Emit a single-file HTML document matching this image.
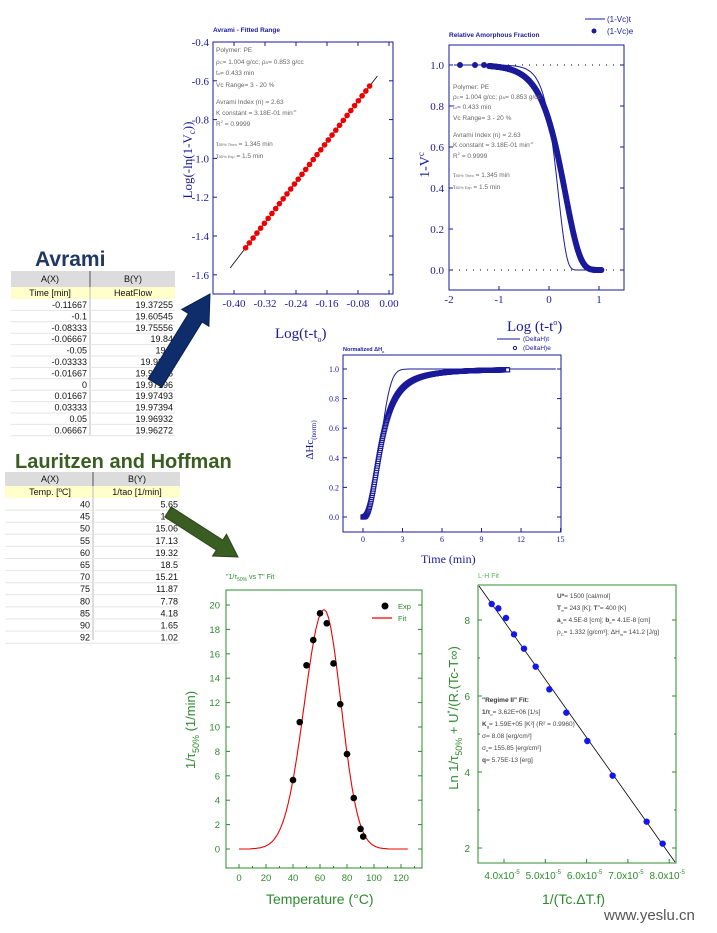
<!DOCTYPE html>
<html><head><meta charset="utf-8"><style>
html,body{margin:0;padding:0;background:#fff;width:717px;height:933px;overflow:hidden}
svg{display:block}
.ser{font-family:"Liberation Serif",serif}
.sans{font-family:"Liberation Sans",sans-serif}
.b{fill:#1a1a9a}
.g{fill:#2e8b2e}
.note{font-family:"Liberation Sans",sans-serif;font-size:6.5px;fill:#666}
.tb{font-family:"Liberation Sans",sans-serif;font-size:9px;fill:#111}
</style></head><body>
<svg id="s" width="717" height="933" viewBox="0 0 717 933" xmlns="http://www.w3.org/2000/svg">
<text x="35" y="266" class="sans" font-size="21" font-weight="bold" fill="#1f3864">Avrami</text>
<rect x="11" y="271" width="164" height="16" fill="#dcdcdc"/>
<rect x="11" y="287" width="164" height="12" fill="#ffffcc"/>
<line x1="90" y1="271" x2="90" y2="436" stroke="#bbb"/>
<line x1="90" y1="271" x2="90" y2="287" stroke="#555"/>
<text x="50" y="282" class="tb" text-anchor="middle">A(X)</text>
<text x="133" y="282" class="tb" text-anchor="middle">B(Y)</text>
<text x="50" y="296" class="tb" text-anchor="middle">Time [min]</text>
<text x="133" y="296" class="tb" text-anchor="middle">HeatFlow</text>
<g id="t1"></g>
<text x="15" y="468" class="sans" font-size="20" font-weight="bold" fill="#3a5e22">Lauritzen and Hoffman</text>
<rect x="5" y="472" width="175" height="14" fill="#dcdcdc"/>
<rect x="5" y="486" width="175" height="12" fill="#ffffcc"/>
<line x1="93" y1="472" x2="93" y2="640" stroke="#bbb"/>
<line x1="93" y1="472" x2="93" y2="486" stroke="#555"/>
<text x="50" y="482" class="tb" text-anchor="middle">A(X)</text>
<text x="137" y="482" class="tb" text-anchor="middle">B(Y)</text>
<text x="50" y="495" class="tb" text-anchor="middle">Temp. [ºC]</text>
<text x="137" y="495" class="tb" text-anchor="middle">1/tao [1/min]</text>
<g id="t2"></g>

<polygon points="161.8,387.2 202.1,322.0 208.9,326.2 210,294 181.7,309.4 188.5,313.6 148.2,378.8" fill="#0f2d6b" stroke="#0a1f4a"/>
<polygon points="164.8,517.0 216.3,550.1 212.5,556.0 238,557 226.5,534.2 222.7,540.1 171.2,507.0" fill="#3a5e22" stroke="#2a4418"/>

<text x="213" y="32" class="sans" font-size="6.5" font-weight="bold" fill="#1a1a9a">Avrami - Fitted Range</text>
<rect x="213" y="42" width="180" height="252" fill="none" stroke="#1a1a9a" stroke-width="1"/>
<g id="p1"></g>
<text transform="translate(192,160) rotate(-90)" class="ser b" font-size="13" text-anchor="middle">Log(-ln(1-V<tspan font-size="9" dy="3">c</tspan><tspan dy="-3">))</tspan></text>
<text x="275" y="338" class="ser b" font-size="15">Log(t-t<tspan font-size="8" dy="4">o</tspan><tspan dy="-4">)</tspan></text>
<g class="note">
<text x="216" y="52">Polymer: PE</text>
<text x="216" y="64">ρ<tspan font-size="4">C</tspan>= 1.004 g/cc; ρ<tspan font-size="4">A</tspan>= 0.853 g/cc</text>
<text x="216" y="75">t<tspan font-size="4">o</tspan>= 0.433 min</text>
<text x="216" y="87">Vc Range= 3 - 20 %</text>
<text x="216" y="104">Avrami Index (n) = 2.63</text>
<text x="216" y="115">K constant = 3.18E-01 min<tspan font-size="4" dy="-3">-n</tspan></text>
<text x="216" y="126">R<tspan font-size="4" dy="-3">2</tspan><tspan dy="3"> = 0.9999</tspan></text>
<text x="216" y="146">τ<tspan font-size="4">50% Theo</tspan> = 1.345 min</text>
<text x="216" y="158">τ<tspan font-size="4">50% Exp</tspan> = 1.5 min</text>
</g>

<text x="449" y="37" class="sans" font-size="6.5" font-weight="bold" fill="#1a1a9a">Relative Amorphous Fraction</text>
<line x1="585" y1="19" x2="605" y2="19" stroke="#1a1a9a"/>
<text x="607" y="22" class="sans b" font-size="8">(1-Vc)t</text>
<circle cx="594" cy="31" r="2.5" fill="#1a1a9a"/>
<text x="607" y="34" class="sans b" font-size="8">(1-Vc)e</text>
<rect x="449" y="45" width="175" height="245" fill="none" stroke="#1a1a9a"/>
<g id="p2"></g>
<text transform="translate(429,165) rotate(-90)" class="ser b" font-size="14" text-anchor="middle">1-V<tspan font-size="9" dy="-5">c</tspan></text>
<text x="507" y="331" class="ser b" font-size="15">Log (t-t<tspan font-size="8" dy="-6">o</tspan><tspan dy="6">)</tspan></text>
<g class="note">
<text x="453" y="89">Polymer: PE</text>
<text x="453" y="99">ρ<tspan font-size="4">C</tspan>= 1.004 g/cc; ρ<tspan font-size="4">A</tspan>= 0.853 g/cc</text>
<text x="453" y="109">t<tspan font-size="4">o</tspan>= 0.433 min</text>
<text x="453" y="120">Vc Range= 3 - 20 %</text>
<text x="453" y="137">Avrami Index (n) = 2.63</text>
<text x="453" y="147">K constant = 3.18E-01 min<tspan font-size="4" dy="-3">-n</tspan></text>
<text x="453" y="158">R<tspan font-size="4" dy="-3">2</tspan><tspan dy="3"> = 0.9999</tspan></text>
<text x="453" y="177">τ<tspan font-size="4">50% Theo</tspan> = 1.345 min</text>
<text x="453" y="189">τ<tspan font-size="4">50% Exp</tspan> = 1.5 min</text>
</g>

<text x="343" y="351" class="sans" font-size="5.5" font-weight="bold" fill="#1a1a9a">Normalized ΔH<tspan font-size="4" dy="2">c</tspan></text>
<line x1="497" y1="339" x2="520" y2="339" stroke="#1a1a9a"/>
<text x="523" y="341" class="sans b" font-size="6.5">(DeltaH)t</text>
<circle cx="515" cy="348" r="1.6" fill="#fff" stroke="#1a1a9a"/>
<text x="523" y="350" class="sans b" font-size="6.5">(DeltaH)e</text>
<rect x="343" y="355" width="218" height="177" fill="none" stroke="#1a1a9a"/>
<g id="p3"></g>
<text transform="translate(313,440) rotate(-90)" class="ser b" font-size="11" text-anchor="middle">ΔHc<tspan font-size="7" dy="3">(norm)</tspan></text>
<text x="421" y="563" class="ser b" font-size="12">Time (min)</text>

<text x="226" y="579" class="sans g" font-size="7">"1/τ<tspan font-size="5" dy="2">50%</tspan><tspan dy="-2"> vs T"  Fit</tspan></text>
<rect x="226" y="590" width="196" height="278" fill="none" stroke="#2e8b2e"/>
<g id="p4"></g>
<circle cx="385" cy="606" r="3.5" fill="#000"/>
<text x="398" y="609" class="sans g" font-size="7.5">Exp</text>
<line x1="372" y1="618" x2="392" y2="618" stroke="#e00" stroke-width="1.2"/>
<text x="398" y="621" class="sans g" font-size="7.5">Fit</text>
<text transform="translate(195,730) rotate(-90)" class="sans g" font-size="13" text-anchor="middle">1/τ<tspan font-size="9" dy="4">50%</tspan><tspan dy="-4">  (1/min)</tspan></text>
<text x="266" y="904" class="sans g" font-size="14">Temperature (°C)</text>

<text x="478" y="578" class="sans" font-size="7" fill="#5cb85c">L-H Fit</text>
<rect x="478" y="585" width="198" height="278" fill="none" stroke="#2e8b2e"/>
<g id="p5"></g>
<g class="note" font-size="6.5" fill="#444">
<text x="557" y="598" fill="#444"><tspan font-weight="bold">U*</tspan>= 1500 [cal/mol]</text>
<text x="557" y="610" fill="#444"><tspan font-weight="bold">T<tspan font-size="4" dy="2">∞</tspan></tspan><tspan dy="-2">= 243 [K]; </tspan><tspan font-weight="bold">T</tspan><tspan font-size="4" dy="-3">o</tspan><tspan dy="3">= 400 [K]</tspan></text>
<text x="557" y="622" fill="#444"><tspan font-weight="bold">a</tspan><tspan font-size="4" dy="2">o</tspan><tspan dy="-2">= 4.5E-8 [cm]; </tspan><tspan font-weight="bold">b</tspan><tspan font-size="4" dy="2">o</tspan><tspan dy="-2">= 4.1E-8 [cm]</tspan></text>
<text x="557" y="634" fill="#444">ρ<tspan font-size="4" dy="2">C</tspan><tspan dy="-2">= 1.332 [g/cm³]; ΔH</tspan><tspan font-size="4" dy="2">m</tspan><tspan dy="-2">= 141.2 [J/g]</tspan></text>
<text x="482" y="702" fill="#333" font-weight="bold">"Regime II" Fit:</text>
<text x="482" y="714" fill="#444"><tspan font-weight="bold">1/τ</tspan><tspan font-size="4" dy="2">o</tspan><tspan dy="-2">= 3.62E+06 [1/s]</tspan></text>
<text x="482" y="726" fill="#444"><tspan font-weight="bold">K</tspan><tspan font-size="4" dy="2">g</tspan><tspan dy="-2">= 1.59E+05 [K²] (R² = 0.9960)</tspan></text>
<text x="482" y="738" fill="#444">σ= 8.08 [erg/cm²]</text>
<text x="482" y="750" fill="#444">σ<tspan font-size="4" dy="2">e</tspan><tspan dy="-2">= 155.85 [erg/cm²]</tspan></text>
<text x="482" y="762" fill="#444"><tspan font-weight="bold">q</tspan>= 5.75E-13 [erg]</text>
</g>
<text transform="translate(458,718) rotate(-90)" class="sans g" font-size="13" text-anchor="middle">Ln 1/τ<tspan font-size="9" dy="4">50%</tspan><tspan dy="-4">  +  U</tspan><tspan font-size="8" dy="-5">*</tspan><tspan dy="5">/(R.(Tc-T∞)</tspan></text>
<text x="542" y="904" class="sans g" font-size="14">1/(Tc.ΔT.f)</text>
<text x="604" y="920" class="sans" font-size="15" fill="#555">www.yeslu.cn</text>
</svg>
<script>
const NS="http://www.w3.org/2000/svg";
function el(p,t,a,txt){const e=document.createElementNS(NS,t);for(const k in a)e.setAttribute(k,a[k]);if(txt!==undefined)e.textContent=txt;document.getElementById(p).appendChild(e);return e;}
const A1=["-0.11667","-0.1","-0.08333","-0.06667","-0.05","-0.03333","-0.01667","0","0.01667","0.03333","0.05","0.06667"];
const B1=["19.37255","19.60545","19.75556","19.84","19.9","19.9326","19.96206","19.97196","19.97493","19.97394","19.96932","19.96272"];
for(let i=0;i<12;i++){const y=299+i*11.4;el("t1","line",{x1:11,y1:y+11.4,x2:175,y2:y+11.4,stroke:"#e4e4e4"});
el("t1","text",{x:87,y:y+9,"text-anchor":"end",class:"tb"},A1[i]);el("t1","text",{x:173,y:y+9,"text-anchor":"end",class:"tb"},B1[i]);}
const A2=[40,45,50,55,60,65,70,75,80,85,90,92],B2=[5.65,10.4,15.06,17.13,19.32,18.5,15.21,11.87,7.78,4.18,1.65,1.02];
for(let i=0;i<12;i++){const y=498+i*12.1;el("t2","line",{x1:5,y1:y+12.1,x2:180,y2:y+12.1,stroke:"#e4e4e4"});
el("t2","text",{x:90,y:y+9.5,"text-anchor":"end",class:"tb"},A2[i]);el("t2","text",{x:178,y:y+9.5,"text-anchor":"end",class:"tb"},B2[i]);}
const X1=v=>234+(v+0.4)/0.08*31, Y1=v=>42+(-0.4-v)/0.2*38.8;
[-0.4,-0.32,-0.24,-0.16,-0.08,0].forEach(v=>{const x=X1(v);el("p1","line",{x1:x,y1:294,x2:x,y2:290,stroke:"#1a1a9a"});el("p1","line",{x1:x,y1:42,x2:x,y2:46,stroke:"#1a1a9a"});el("p1","text",{x:x,y:307,"text-anchor":"middle",class:"ser b","font-size":11},v==0?"0.00":v.toFixed(2));});
[-0.4,-0.6,-0.8,-1.0,-1.2,-1.4,-1.6].forEach(v=>{const y=Y1(v);el("p1","line",{x1:213,y1:y,x2:217,y2:y,stroke:"#1a1a9a"});el("p1","line",{x1:393,y1:y,x2:389,y2:y,stroke:"#1a1a9a"});el("p1","text",{x:209,y:y+4,"text-anchor":"end",class:"ser b","font-size":11},v.toFixed(1));});
el("p1","line",{x1:X1(-0.41),y1:Y1(-1.565),x2:X1(-0.03),y2:Y1(-0.575),stroke:"#000","stroke-width":0.8});
for(let i=0;i<34;i++){const v=-0.37+i*0.32/33;const w=-1.565+(v+0.41)*(0.99/0.38);el("p1","circle",{cx:X1(v),cy:Y1(w),r:2.8,fill:"#e00"});}
const X2=v=>449+(v+2)*50, Y2=v=>270-v*205;
[-2,-1,0,1].forEach(v=>{const x=X2(v);el("p2","line",{x1:x,y1:290,x2:x,y2:286,stroke:"#1a1a9a"});el("p2","text",{x:x,y:303,"text-anchor":"middle",class:"ser b","font-size":11},v);});
[0,0.2,0.4,0.6,0.8,1.0].forEach(v=>{const y=Y2(v);el("p2","line",{x1:449,y1:y,x2:453,y2:y,stroke:"#1a1a9a"});el("p2","line",{x1:624,y1:y,x2:620,y2:y,stroke:"#1a1a9a"});el("p2","text",{x:444,y:y+4,"text-anchor":"end",class:"ser b","font-size":11},v.toFixed(1));});
el("p2","line",{x1:452,y1:Y2(1),x2:622,y2:Y2(1),stroke:"#000","stroke-dasharray":"1,6"});
el("p2","line",{x1:452,y1:Y2(0),x2:622,y2:Y2(0),stroke:"#000","stroke-dasharray":"1,6"});
let d="";for(let x=-1.9;x<=1.1;x+=0.01){const t=Math.pow(10,x);const f=Math.exp(-0.318*Math.pow(t,2.63));d+=(d?"L":"M")+X2(x).toFixed(1)+","+Y2(f).toFixed(1);}
el("p2","path",{d:d,fill:"none",stroke:"#1a1a9a","stroke-width":1});
[-1.78,-1.48,-1.3].forEach(x=>el("p2","circle",{cx:X2(x),cy:Y2(1),r:3,fill:"#1a1a9a"}));
for(let x=-1.2;x<=1.05;x+=0.008){const t=Math.pow(10,x);const f=Math.exp(-0.318*Math.pow(t,1.5));el("p2","circle",{cx:X2(x),cy:Y2(f),r:3,fill:"#1a1a9a"});}
const X3=v=>363+v*13.17, Y3=v=>517-v*148;
[0,3,6,9,12,15].forEach(v=>{const x=X3(v);el("p3","line",{x1:x,y1:532,x2:x,y2:528,stroke:"#1a1a9a"});el("p3","text",{x:x,y:542,"text-anchor":"middle",class:"ser b","font-size":8},v);});
[0,0.2,0.4,0.6,0.8,1.0].forEach(v=>{const y=Y3(v);el("p3","line",{x1:343,y1:y,x2:347,y2:y,stroke:"#1a1a9a"});el("p3","line",{x1:561,y1:y,x2:557,y2:y,stroke:"#1a1a9a"});el("p3","text",{x:339,y:y+3,"text-anchor":"end",class:"ser b","font-size":8},v.toFixed(1));});
d="";for(let t=0;t<=14.7;t+=0.05){const f=1-Math.exp(-0.318*Math.pow(t,2.63));d+=(d?"L":"M")+X3(t).toFixed(1)+","+Y3(f).toFixed(1);}
el("p3","path",{d:d,fill:"none",stroke:"#1a1a9a","stroke-width":1});
for(let t=0;t<=11;t+=0.03){const f=Math.pow(t,2.5)/(Math.pow(t,2.5)+Math.pow(1.4,2.5));el("p3","rect",{x:X3(t)-2,y:Y3(f)-2,width:4,height:4,fill:"#fff",stroke:"#1a1a9a","stroke-width":1.2});}
const X4=v=>239+v*1.35, Y4=v=>849-v*12.2;
[0,20,40,60,80,100,120].forEach(v=>{const x=X4(v);el("p4","line",{x1:x,y1:868,x2:x,y2:864,stroke:"#2e8b2e"});el("p4","line",{x1:x+13.5,y1:868,x2:x+13.5,y2:866,stroke:"#2e8b2e"});el("p4","text",{x:x,y:881,"text-anchor":"middle",class:"sans g","font-size":9.5},v);});
[0,2,4,6,8,10,12,14,16,18,20].forEach(v=>{const y=Y4(v);el("p4","line",{x1:226,y1:y,x2:230,y2:y,stroke:"#2e8b2e"});el("p4","line",{x1:422,y1:y,x2:418,y2:y,stroke:"#2e8b2e"});el("p4","text",{x:220,y:y+3.5,"text-anchor":"end",class:"sans g","font-size":9.5},v);});
d="";for(let T=0;T<=125;T+=0.5){const s=T<63?14.6:12.6;const f=19.6*Math.exp(-Math.pow((T-63)/s,2)/2);d+=(d?"L":"M")+X4(T).toFixed(1)+","+Y4(f<0.02?0:f).toFixed(1);}
el("p4","path",{d:d,fill:"none",stroke:"#e00","stroke-width":1.1});
A2.forEach((T,i)=>el("p4","circle",{cx:X4(T),cy:Y4(B2[i]),r:3.3,fill:"#000"}));
const Y5=v=>620+(8-v)*38;
[2,4,6,8].forEach(v=>{const y=Y5(v);el("p5","line",{x1:478,y1:y,x2:482,y2:y,stroke:"#2e8b2e"});el("p5","line",{x1:676,y1:y,x2:672,y2:y,stroke:"#2e8b2e"});el("p5","text",{x:470,y:y+4,"text-anchor":"end",class:"sans g","font-size":10},v);});
[3,5,7].forEach(v=>{const y=Y5(v);el("p5","line",{x1:478,y1:y,x2:480,y2:y,stroke:"#2e8b2e"});el("p5","line",{x1:676,y1:y,x2:674,y2:y,stroke:"#2e8b2e"});});
["4.0","5.0","6.0","7.0","8.0"].forEach((s,i)=>{const x=504+i*41.3;el("p5","line",{x1:x,y1:863,x2:x,y2:859,stroke:"#2e8b2e"});const t=el("p5","text",{x:x-2,y:879,"text-anchor":"middle",class:"sans g","font-size":10},s+"x10");const sp=document.createElementNS(NS,"tspan");sp.setAttribute("font-size","6");sp.setAttribute("dy","-5");sp.textContent="-5";t.appendChild(sp);});
el("p5","line",{x1:479,y1:586,x2:675,y2:862,stroke:"#000","stroke-width":0.8});
[[185,117],[205,130],[228,159],[252,208],[282,251],[317,305],[358,373],[409,443],[472,528],[548,632],[650,770],[698,836]].forEach(p=>el("p5","circle",{cx:430+p[0]/3,cy:565+p[1]/3,r:3.2,fill:"#1515ee"}));
</script>
</body></html>
